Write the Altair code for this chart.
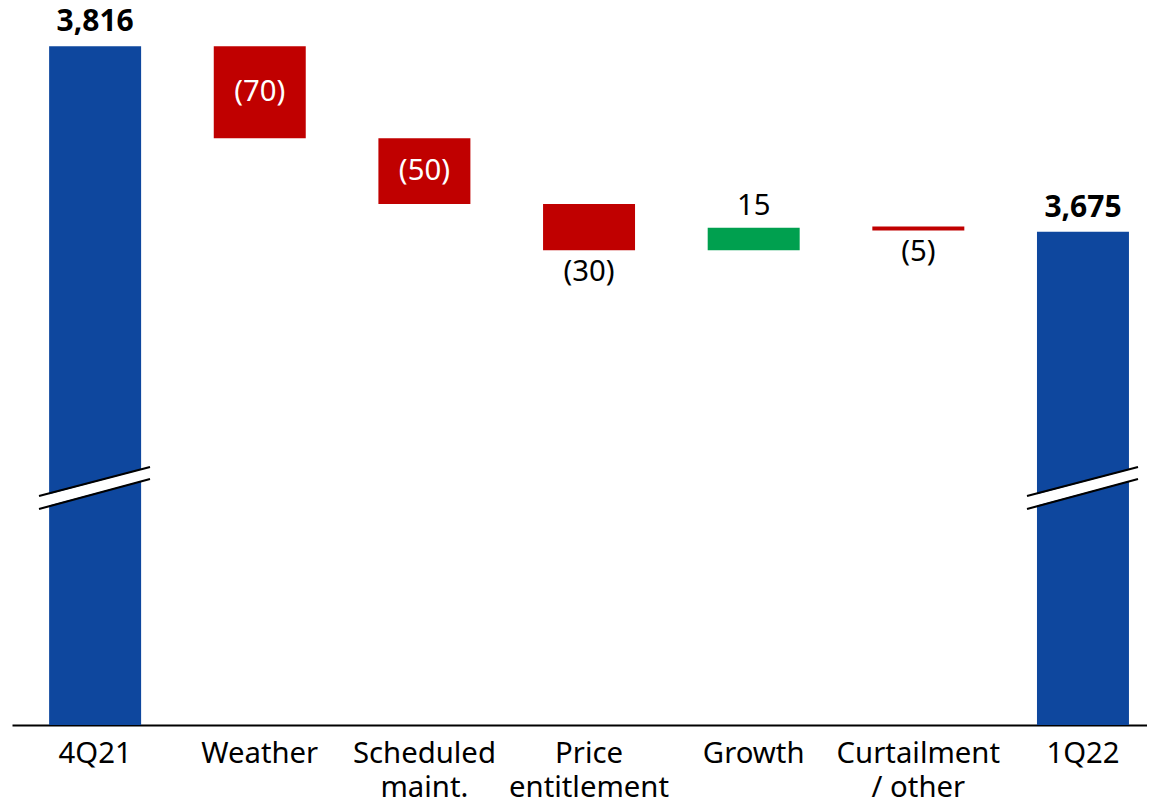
import altair as alt
import pandas as pd

# ---- data ----
categories = ["4Q21", "Weather", "Scheduled\nmaint.", "Price\nentitlement", "Growth", "Curtailment\n/ other", "1Q22"]
bar_start = [3300, 3816, 3746, 3696, 3661, 3679, 3300]
bar_end = [3816, 3746, 3696, 3661, 3678, 3676, 3675]
kinds = ["total", "down", "down", "down", "up", "down", "total"]
labels = ["3,816", "(70)", "(50)", "(30)", "15", "(5)", "3,675"]
label_pos = ["above", "inside", "inside", "below", "above", "below", "above"]

axis_base = 3300
axis_top = 3839

df = pd.DataFrame({
    "cat": categories, "start": bar_start, "end": bar_end, "kind": kinds,
    "label": labels, "pos": label_pos,
})
df["top"] = df[["start", "end"]].max(axis=1)
df["bottom"] = df[["start", "end"]].min(axis=1)
df["mid"] = (df["start"] + df["end"]) / 2
df["bold"] = df["kind"] == "total"

FONT = "Noto Sans"
W, H = 1135, 709

xscale = alt.Scale(domain=categories, paddingInner=0.4413, paddingOuter=0.1675, align=0.673, round=False)
yscale = alt.Scale(domain=[axis_base, axis_top], zero=False, nice=False)

xenc = alt.X("cat:N", scale=xscale, sort=categories,
             axis=alt.Axis(title=None, labelAngle=0, ticks=False, domainColor="black",
                           domainWidth=2, labelFont=FONT, labelFontSize=29.3, labelColor="black",
                           labelLineHeight=34, labelPadding=14,
                           labelExpr="split(datum.label, '\\n')"))

base = alt.Chart(df)

bars = base.mark_bar().encode(
    x=xenc,
    y=alt.Y("start:Q", scale=yscale, axis=None),
    y2="end:Q",
    color=alt.Color("kind:N", scale=alt.Scale(domain=["total", "down", "up"],
                                              range=["#0E479E", "#C00000", "#00A04F"]), legend=None),
)

txt_above_total = base.transform_filter("datum.pos == 'above' && datum.bold").mark_text(
    font=FONT, fontSize=30, fontWeight="bold", baseline="bottom", dy=-9, color="black"
).encode(x=alt.X("cat:N", sort=categories), y=alt.Y("top:Q"), text="label:N")

txt_above = base.transform_filter("datum.pos == 'above' && !datum.bold").mark_text(
    font=FONT, fontSize=29.3, baseline="bottom", dy=-7, color="black"
).encode(x=alt.X("cat:N", sort=categories), y=alt.Y("top:Q"), text="label:N")

txt_inside = base.transform_filter("datum.pos == 'inside'").mark_text(
    font=FONT, fontSize=29.3, baseline="middle", color="white"
).encode(x=alt.X("cat:N", sort=categories), y=alt.Y("mid:Q"), text="label:N")

txt_below = base.transform_filter("datum.pos == 'below'").mark_text(
    font=FONT, fontSize=29.3, baseline="top", dy=8, color="black"
).encode(x=alt.X("cat:N", sort=categories), y=alt.Y("bottom:Q"), text="label:N")

# axis-break marks (decoration)
brk = pd.DataFrame({"x0": [27, 1015], "x1": [138, 1126]})
brk_chart = alt.Chart(brk)
white_band = brk_chart.mark_rule(color="white", strokeWidth=11).encode(
    x=alt.X("x0:Q", scale=None), x2="x1:Q",
    y=alt.value(486.5), y2=alt.value(457))
line_top = brk_chart.mark_rule(color="black", strokeWidth=2).encode(
    x=alt.X("x0:Q", scale=None), x2="x1:Q",
    y=alt.value(480), y2=alt.value(451))
line_bot = brk_chart.mark_rule(color="black", strokeWidth=2).encode(
    x=alt.X("x0:Q", scale=None), x2="x1:Q",
    y=alt.value(493), y2=alt.value(463))

chart = alt.layer(bars, white_band, line_top, line_bot, txt_above_total, txt_above, txt_inside, txt_below).properties(
    width=W, height=H,
    background="white",
    autosize=alt.AutoSizeParams(type="none"),
    padding={"left": 4, "top": 8, "right": 0, "bottom": 76},
).configure_view(stroke=None)

chart.save("out.html", embed_options={"renderer": "svg", "actions": False})
